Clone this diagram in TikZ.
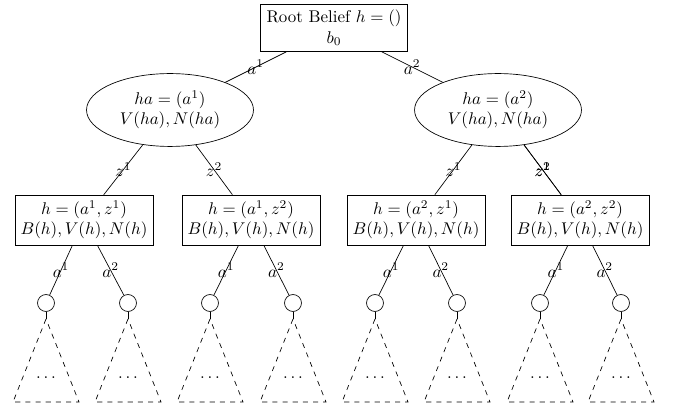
\documentclass[tikz,border=0pt]{standalone}
\usetikzlibrary{shapes.geometric}
\begin{document}
\begin{tikzpicture}[x=0.59pt,y=-0.59pt,
  boxnode/.style={draw,rectangle,align=center,inner sep=3.4pt},
  actnode/.style={draw,ellipse,align=center,minimum width=98.5pt,minimum height=43pt,inner sep=1pt},
  leafnode/.style={draw,circle,minimum size=10pt,inner sep=0pt},
  elabel/.style={midway,inner sep=1pt},
  subtree/.style={dashed}]
\useasboundingbox (0,0) rectangle (673,406);

% root belief
\node[boxnode] (root) at (334,28) {Root Belief $h=()$\\$b_0$};

% action nodes
\node[actnode] (ha1) at (170,110) {$ha=(a^1)$\\$V(ha),N(ha)$};
\node[actnode] (ha2) at (498,110) {$ha=(a^2)$\\$V(ha),N(ha)$};

% history nodes
\node[boxnode] (h11) at (84,220)  {$h=(a^1,z^1)$\\$B(h),V(h),N(h)$};
\node[boxnode] (h12) at (251,220) {$h=(a^1,z^2)$\\$B(h),V(h),N(h)$};
\node[boxnode] (h21) at (416,220) {$h=(a^2,z^1)$\\$B(h),V(h),N(h)$};
\node[boxnode] (h22) at (580,220) {$h=(a^2,z^2)$\\$B(h),V(h),N(h)$};

\draw (root) -- (ha1) node[elabel] {$a^1$};
\draw (root) -- (ha2) node[elabel] {$a^2$};
\draw (ha1) -- (h11) node[elabel] {$z^1$};
\draw (ha1) -- (h12) node[elabel] {$z^2$};
\draw (ha2) -- (h21) node[elabel] {$z^1$};
\draw (ha2) -- (h22) node[elabel] {$z^1$};
\draw (ha2) -- (h22) node[elabel] {$z^2$};

% leaf action nodes with their dashed subtrees
\foreach \n/\x/\p/\s in {c1/46/h11/1, c2/128/h11/2, c3/210/h12/1, c4/293/h12/2,
                         c5/375/h21/1, c6/457/h21/2, c7/540/h22/1, c8/621/h22/2}{
  \node[leafnode] (\n) at (\x,303) {};
  \draw (\p) -- (\n) node[elabel] {$a^{\s}$};
  \coordinate (\n top) at (\x,319);
  \draw (\n) -- (\n top);
  \draw[subtree] (\n top) -- ++(-33,83) -- ++(66,0) -- cycle;
  \node (\n dots) at (\x,378) {$\dots$};
}
\end{tikzpicture}
\end{document}
